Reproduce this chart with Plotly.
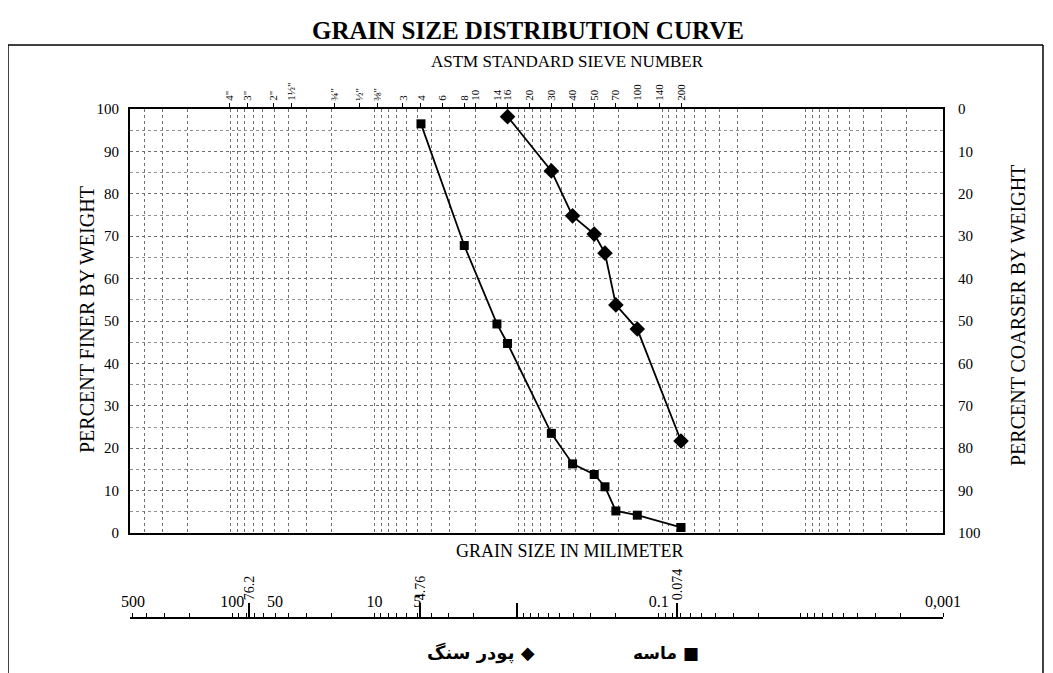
import plotly.graph_objects as go

# ---------------- data ----------------
sand_size = [4.76, 2.38, 1.41, 1.19, 0.59, 0.42, 0.297, 0.25, 0.21, 0.149, 0.074]
sand_pass = [96.5, 67.8, 49.3, 44.7, 23.5, 16.3, 13.8, 10.9, 5.2, 4.2, 1.3]

powder_size = [1.19, 0.59, 0.42, 0.297, 0.25, 0.21, 0.149, 0.074]
powder_pass = [98.2, 85.4, 74.8, 70.5, 66.0, 53.8, 48.1, 21.7]

sieve_size = [101.6, 76.2, 50.8, 38.1, 19.05, 12.7, 9.525, 6.35, 4.76, 3.36, 2.38, 2.0,
              1.41, 1.19, 0.84, 0.59, 0.42, 0.297, 0.21, 0.149, 0.105, 0.074]
sieve_label = ['4"', '3"', '2"', '1½"', '¾"', '½"', '⅜"', '3', '4', '6', '8', '10',
               '14', '16', '20', '30', '40', '50', '70', '100', '140', '200']

mm_label_vals = [500, 100, 50, 10, 5, 0.1, 0.001]
mm_label_text = ['500', '100', '50', '10', '5', '0.1', '0,001']
mm_special_vals = [76.2, 4.76, 1, 0.074]
mm_special_text = ['76.2', '4.76', '', '0.074']

pct_ticks = list(range(0, 101, 10))

# ---------------- figure ----------------
# the page body adds an 8px offset; figure is sized to fit the window
W, H = 1045, 665
L, R, T, B = 122, 110, 101, 40
pw, ph = W - L - R, H - T - B


def px_x(X):
    """reference-image x pixel -> paper x"""
    return (X - 130) / pw


def px_y(Y):
    """reference-image y pixel -> paper y"""
    return (633 - Y) / ph


plot_bottom = px_y(533)
serif = "Liberation Serif"

fig = go.Figure()
fig.add_trace(go.Scatter(x=sand_size, y=sand_pass, mode="lines+markers",
                         line=dict(color="black", width=1.8),
                         marker=dict(symbol="square", size=9, color="black"),
                         showlegend=False, hoverinfo="x+y"))
fig.add_trace(go.Scatter(x=powder_size, y=powder_pass, mode="lines+markers",
                         line=dict(color="black", width=1.8),
                         marker=dict(symbol="diamond", size=12, color="black"),
                         showlegend=False, hoverinfo="x+y"))

main_range = [2.7012, -2.9528]
bottom_range = [2.720, -3.0]

# bottom axis tick values: every digit per decade
digit_vals = []
for e in range(-3, 3):
    for d in range(1, 10):
        v = d * 10 ** e
        if v <= 500.0001:
            digit_vals.append(round(v, 6))
digit_text = []
for v in digit_vals:
    t = ''
    for lv, lt in zip(mm_label_vals, mm_label_text):
        if abs(v - lv) < 1e-9:
            t = lt
    digit_text.append(t)

fig.update_layout(
    width=W, height=H,
    margin=dict(l=L, r=R, t=T, b=B, autoexpand=False),
    paper_bgcolor="white", plot_bgcolor="white",
    font=dict(family=serif, color="black", size=15),
    xaxis=dict(type="log", range=main_range, domain=[0, 1], automargin=False,
               dtick="D1", showticklabels=False, ticks="",
               showgrid=True, gridcolor="#707070", griddash="dot", gridwidth=1,
               showline=True, linecolor="black", linewidth=2, mirror=True,
               zeroline=False),
    xaxis2=dict(type="log", range=main_range, overlaying="x", side="top", anchor="y",
                automargin=False,
                tickmode="array", tickvals=sieve_size, ticktext=sieve_label,
                tickangle=-90, ticks="outside", ticklen=5, tickwidth=1, tickcolor="black",
                tickfont=dict(size=11, family=serif), showgrid=False, showline=False,
                zeroline=False),
    xaxis3=dict(type="log", range=bottom_range, overlaying="x", side="top",
                anchor="free", position=px_y(618), automargin=False,
                tickmode="array", tickvals=digit_vals, ticktext=digit_text,
                ticks="outside", ticklen=4, tickwidth=1, tickcolor="black",
                tickfont=dict(size=16, family=serif), tickangle=0,
                showgrid=False, showline=True, linecolor="black", linewidth=1.5,
                zeroline=False),
    xaxis4=dict(type="log", range=bottom_range, overlaying="x", side="top",
                anchor="free", position=px_y(618), automargin=False,
                tickmode="array", tickvals=mm_special_vals, ticktext=mm_special_text,
                ticks="outside", ticklen=15, tickwidth=1.5, tickcolor="black",
                tickfont=dict(size=14, family=serif), tickangle=-90,
                showgrid=False, showline=False, zeroline=False),
    yaxis=dict(range=[0, 100], domain=[plot_bottom, 1], automargin=False,
               tickmode="array", tickvals=pct_ticks, ticks="", ticklabelstandoff=6,
               tickfont=dict(size=15, family=serif),
               showgrid=True, gridcolor="#707070", griddash="dot", gridwidth=1,
               minor=dict(dtick=5, showgrid=True, gridcolor="#909090", griddash="dot", gridwidth=1),
               showline=True, linecolor="black", linewidth=2, mirror=True,
               zeroline=False),
    yaxis2=dict(range=[100, 0], overlaying="y", side="right", anchor="x", automargin=False,
                tickmode="array", tickvals=pct_ticks, ticks="", ticklabelstandoff=14,
                tickfont=dict(size=15, family=serif),
                showgrid=False, showline=False, zeroline=False),
)

# invisible helper traces so the secondary axes are drawn
fig.add_trace(go.Scatter(x=sieve_size, y=[50] * len(sieve_size), xaxis="x2", yaxis="y",
                         mode="markers", marker=dict(opacity=0), showlegend=False, hoverinfo="skip"))
fig.add_trace(go.Scatter(x=mm_label_vals, y=[50] * len(mm_label_vals), xaxis="x3", yaxis="y",
                         mode="markers", marker=dict(opacity=0), showlegend=False, hoverinfo="skip"))
fig.add_trace(go.Scatter(x=mm_special_vals, y=[50] * len(mm_special_vals), xaxis="x4", yaxis="y",
                         mode="markers", marker=dict(opacity=0), showlegend=False, hoverinfo="skip"))
fig.add_trace(go.Scatter(x=sand_size, y=[50] * len(sand_size), xaxis="x", yaxis="y2",
                         mode="markers", marker=dict(opacity=0), showlegend=False, hoverinfo="skip"))


def note(text, X, Y, size, family=serif, angle=0, xanchor="center"):
    return dict(text=text, x=px_x(X), y=px_y(Y), xref="paper", yref="paper",
                showarrow=False, textangle=angle, xanchor=xanchor, yanchor="middle",
                font=dict(size=size, family=family, color="black"))


ann = [
    note("<b>GRAIN SIZE DISTRIBUTION CURVE</b>", 528, 30, 25),
    note("ASTM STANDARD SIEVE NUMBER", 567, 62, 17),
    note("GRAIN SIZE IN MILIMETER", 569, 551, 18),
    note("PERCENT FINER BY WEIGHT", 87, 320, 20, angle=-90),
    note("PERCENT COARSER BY WEIGHT", 1018, 316, 20, angle=-90),
    note("<b>پودر سنگ ◆</b>", 537, 653, 18, family="DejaVu Sans", xanchor="right"),
    note("<b>ماسه ■</b>", 701, 653, 17, family="DejaVu Sans", xanchor="right"),
]
fig.update_layout(annotations=ann)

# outer frame
frame_style = dict(color="black", width=1.5)
fig.add_shape(type="line", xref="paper", yref="paper", x0=px_x(8), x1=px_x(1043),
              y0=px_y(45), y1=px_y(45), line=frame_style)
fig.add_shape(type="line", xref="paper", yref="paper", x0=px_x(8), x1=px_x(8),
              y0=px_y(45), y1=px_y(680), line=frame_style)
fig.add_shape(type="line", xref="paper", yref="paper", x0=px_x(1043), x1=px_x(1043),
              y0=px_y(45), y1=px_y(680), line=frame_style)

fig.write_html("out.html")
